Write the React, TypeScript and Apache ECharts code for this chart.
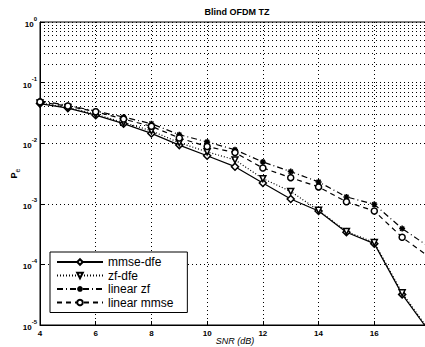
import React, { useEffect, useRef } from "react";
import * as echarts from "echarts";

const snr = [4, 5, 6, 7, 8, 9, 10, 11, 12, 13, 14, 15, 16, 17, 18];
const mmseDfe = [0.045, 0.038, 0.029, 0.021, 0.0145, 0.0093, 0.0062, 0.0041, 0.0022, 0.0012, 0.00076, 0.00034, 0.00022, 0.000032, 0.0000075];
const zfDfe = [0.046, 0.039, 0.030, 0.022, 0.016, 0.0102, 0.0072, 0.0053, 0.0026, 0.0016, 0.00078, 0.00035, 0.00023, 0.000034, 0.0000078];
const linearZf = [0.050, 0.042, 0.034, 0.027, 0.021, 0.0138, 0.0105, 0.0078, 0.0049, 0.0034, 0.0023, 0.0013, 0.00098, 0.00039, 0.00019];
const linearMmse = [0.048, 0.041, 0.033, 0.025, 0.019, 0.0122, 0.0088, 0.0070, 0.0039, 0.0027, 0.0019, 0.00108, 0.00076, 0.00028, 0.00013];
const seriesNames = ["mmse-dfe", "zf-dfe", "linear zf", "linear mmse"];
const minorGrid = [2, 3, 4, 5, 6, 7, 8, 9];
const decades = [-5, -4, -3, -2, -1];

const FONT = "'Liberation Sans', Arial, Helvetica, sans-serif";

export default function App() {
  const ref = useRef<HTMLDivElement>(null);
  useEffect(() => {
    const chart = echarts.init(ref.current!, null, { renderer: "svg" });
    const pair = (ys: number[]) => snr.map((x, i) => [x, ys[i]]);
    const minorLines: any[] = [];
    decades.forEach((d) => minorGrid.forEach((k) => minorLines.push({ yAxis: k * Math.pow(10, d) })));
    const common = {
      type: "line",
      showAllSymbol: true,
      symbolSize: 6,
      itemStyle: { color: "#fff", borderColor: "#000", borderWidth: 1.5 },
      clip: true,
      z: 5,
    };
    chart.setOption({
      animation: false,
      backgroundColor: "#fff",
      textStyle: { fontFamily: FONT },
      graphic: [
        {
          type: "text",
          x: 237,
          y: 7,
          style: { text: "Blind OFDM TZ", textAlign: "center", font: `bold 9px ${FONT}`, fill: "#000" },
        },
      ],
      grid: {
        left: 40,
        right: -5,
        top: 22,
        bottom: 22,
        outerBoundsMode: "none",
        containLabel: false,
        show: true,
        borderColor: "#000",
        borderWidth: 1,
        backgroundColor: "#fff",
      },
      legend: {
        data: seriesNames,
        orient: "vertical",
        left: 50,
        top: 252,
        backgroundColor: "#fff",
        borderColor: "#000",
        borderWidth: 1,
        borderRadius: 0,
        padding: [4, 14, 4, 6],
        itemGap: 1.5,
        itemWidth: 46,
        itemHeight: 7,
        textStyle: { fontSize: 12, color: "#000", fontFamily: FONT },
      },
      xAxis: {
        type: "value",
        min: 4,
        max: 18,
        interval: 2,
        name: "SNR (dB)",
        nameLocation: "middle",
        nameGap: 11,
        nameMoveOverlap: false,
        nameTextStyle: { fontSize: 9, fontStyle: "italic", color: "#000", verticalAlign: "top" },
        axisLine: { lineStyle: { color: "#000" } },
        axisTick: { inside: true, length: 4, lineStyle: { color: "#000" } },
        axisLabel: { fontSize: 8, fontWeight: "bold", color: "#000", margin: 4, showMaxLabel: false },
        splitLine: { show: true, lineStyle: { color: "#000", type: [1, 3], width: 1 } },
      },
      yAxis: {
        type: "log",
        logBase: 10,
        min: 1e-5,
        max: 1,
        name: "{p|P}{e|e}",
        nameLocation: "middle",
        nameRotate: 90,
        nameGap: 19,
        nameMoveOverlap: false,
        nameTextStyle: {
          color: "#000",
          rich: {
            p: { fontSize: 9, fontWeight: "bold", lineHeight: 12, verticalAlign: "top" },
            e: { fontSize: 7, lineHeight: 7, verticalAlign: "bottom" },
          },
        },
        axisLine: { lineStyle: { color: "#000" } },
        axisTick: { inside: true, length: 4, lineStyle: { color: "#000" } },
        axisLabel: {
          margin: 3,
          color: "#000",
          formatter: (v: number) => `{b|10}{s|${Math.round(Math.log10(v))}}`,
          rich: {
            b: { fontSize: 8, fontWeight: "bold", lineHeight: 13, verticalAlign: "bottom" },
            s: { fontSize: 6, fontWeight: "bold", lineHeight: 6, verticalAlign: "top" },
          },
        },
        splitLine: { show: true, lineStyle: { color: "#000", type: [1, 3], width: 1 } },
      },
      series: [
        {
          ...common,
          name: seriesNames[0],
          data: pair(mmseDfe),
          symbol: "diamond",
          symbolSize: 7,
          lineStyle: { color: "#000", width: 1.2, type: "solid" },
          markLine: {
            silent: true,
            symbol: "none",
            label: { show: false },
            lineStyle: { color: "#000", type: [1, 3], width: 1 },
            data: minorLines,
            z: 1,
          },
        },
        {
          ...common,
          name: seriesNames[1],
          data: pair(zfDfe),
          symbol: "path://M0,0 L10,0 L5,10 Z",
          lineStyle: { color: "#000", width: 1.2, type: [1, 2] },
        },
        {
          ...common,
          name: seriesNames[2],
          data: pair(linearZf),
          symbol: "path://M5,0 L5,10 M0,5 L10,5 M1.5,1.5 L8.5,8.5 M1.5,8.5 L8.5,1.5",
          itemStyle: { color: "#000", borderColor: "#000", borderWidth: 1.5 },
          lineStyle: { color: "#000", width: 1.2, type: [6, 3, 1, 3] },
        },
        {
          ...common,
          name: seriesNames[3],
          data: pair(linearMmse),
          symbol: "circle",
          lineStyle: { color: "#000", width: 1.2, type: [5, 4] },
        },
      ],
    });
    return () => chart.dispose();
  }, []);
  return <div ref={ref} style={{ position: "fixed", left: 0, top: 0, width: 425, height: 347 }} />;
}
